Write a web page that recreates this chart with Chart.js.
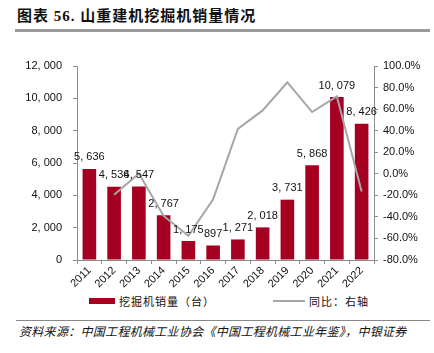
<!DOCTYPE html>
<html>
<head>
<meta charset="utf-8">
<script src="https://cdn.jsdelivr.net/npm/chart.js@4"></script>
<style>
  body { margin: 0; width: 434px; height: 353px; background: #fff; position: relative; overflow: hidden;
         font-family: "Liberation Sans", "Noto Sans CJK SC", sans-serif; color: #111; }
  #titulo { position: absolute; left: 17px; top: 4px; font-size: 15px; font-weight: bold; letter-spacing: 1px;
            font-family: "Liberation Serif", "Noto Sans CJK SC", serif; }
  #lineaTitulo { position: absolute; left: 15px; top: 29px; width: 415px; height: 3px; background: #9a9a9a; }
  #grafica { position: absolute; left: 0; top: 40px; }
  #leyenda { position: absolute; top: 293px; left: 0; width: 434px; height: 16px; font-size: 11px;
             font-family: "Noto Sans CJK SC", sans-serif; letter-spacing: 1px; }
  .item { position: absolute; top: 0; display: flex; align-items: center; }
  .caja { width: 26px; height: 6px; background: #A50021; margin-right: 4px; }
  .raya { width: 32px; height: 2px; background: #a6a6a6; margin-right: 4px; }
  #lineaFuente { position: absolute; left: 16px; top: 320px; width: 414px; height: 1px; background: #888; }
  #fuente { position: absolute; left: 19px; top: 322px; font-size: 12px; font-style: italic; letter-spacing: 0.3px;
            font-family: "Noto Sans CJK SC", sans-serif; }
</style>
</head>
<body>
<div id="titulo">图表 56. 山重建机挖掘机销量情况</div>
<div id="lineaTitulo"></div>
<canvas id="grafica" width="434" height="250"></canvas>
<div id="leyenda">
  <div class="item" style="left:89px"><div class="caja"></div>挖掘机销量（台）</div>
  <div class="item" style="left:273px"><div class="raya"></div>同比：右轴</div>
</div>
<div id="lineaFuente"></div>
<div id="fuente">资料来源：中国工程机械工业协会《中国工程机械工业年鉴》，中银证券</div>

<script>
const anios = ['2011', '2012', '2013', '2014', '2015', '2016', '2017', '2018', '2019', '2020', '2021', '2022'];
const ventas = [5636, 4536, 4547, 2767, 1175, 897, 1271, 2018, 3731, 5868, 10079, 8426];
const variacion = [null, -19.5, 0.2, -39.1, -57.5, -23.7, 41.7, 58.8, 84.9, 57.3, 71.8, -16.4];
const ticksIzq = [0, 2000, 4000, 6000, 8000, 10000, 12000];
const ticksDer = [-80, -60, -40, -20, 0, 20, 40, 60, 80, 100];

const rojo = '#A50021';
const gris = '#a6a6a6';
const ejeColor = '#8c8c8c';

function miles(v) {
    const s = Math.round(v).toString();
    return s.length > 3 ? s.slice(0, -3) + ', ' + s.slice(-3) : s;
}

// numeros encima de las barras (dataset 1 = barras)
const etiquetas = {
    id: 'etiquetas',
    afterDatasetsDraw(chart) {
        const ctx = chart.ctx;
        const meta = chart.getDatasetMeta(1);
        ctx.save();
        ctx.font = '11px "Liberation Sans", sans-serif';
        ctx.fillStyle = '#111';
        ctx.textAlign = 'center';
        ctx.textBaseline = 'bottom';
        meta.data.forEach((bar, i) => {
            ctx.fillText(miles(ventas[i]), bar.x, bar.y - 6);
        });
        ctx.restore();
    }
};

const fuenteTicks = { family: '"Liberation Sans", sans-serif', size: 11 };

new Chart(document.getElementById('grafica').getContext('2d'), {
    data: {
        labels: anios,
        datasets: [
            {
                type: 'line',
                data: variacion,
                yAxisID: 'y2',
                borderColor: gris,
                borderWidth: 2,
                pointRadius: 0,
                tension: 0,
                order: 0
            },
            {
                type: 'bar',
                data: ventas,
                yAxisID: 'y',
                backgroundColor: rojo,
                barPercentage: 0.55,
                categoryPercentage: 1,
                order: 1
            }
        ]
    },
    options: {
        responsive: false,
        animation: false,
        layout: { padding: { top: 26, left: 0, right: 0, bottom: 0 } },
        plugins: { legend: { display: false }, tooltip: { enabled: false } },
        scales: {
            x: {
                offset: true,
                grid: { offset: true, drawOnChartArea: false, drawTicks: true, tickLength: 4, color: ejeColor },
                border: { color: ejeColor },
                ticks: { color: '#111', font: fuenteTicks, maxRotation: 45, minRotation: 45, padding: 0 },
                afterFit(s) { s.height = 30; }
            },
            y: {
                position: 'left',
                min: 0,
                max: 12000,
                afterBuildTicks(s) { s.ticks = ticksIzq.map(v => ({ value: v })); },
                grid: { drawOnChartArea: false, drawTicks: true, tickLength: 4, color: ejeColor },
                border: { color: ejeColor },
                ticks: { color: '#111', font: fuenteTicks, padding: 11, callback: v => miles(v) },
                afterFit(s) { s.width = 77; }
            },
            y2: {
                position: 'right',
                min: -80,
                max: 100,
                afterBuildTicks(s) { s.ticks = ticksDer.map(v => ({ value: v })); },
                grid: { drawOnChartArea: false, drawTicks: true, tickLength: 4, color: ejeColor },
                border: { color: ejeColor },
                ticks: { color: '#111', font: fuenteTicks, padding: 5, callback: v => v.toFixed(1) + '%' },
                afterFit(s) { s.width = 60; }
            }
        }
    },
    plugins: [etiquetas]
});
</script>
</body>
</html>
